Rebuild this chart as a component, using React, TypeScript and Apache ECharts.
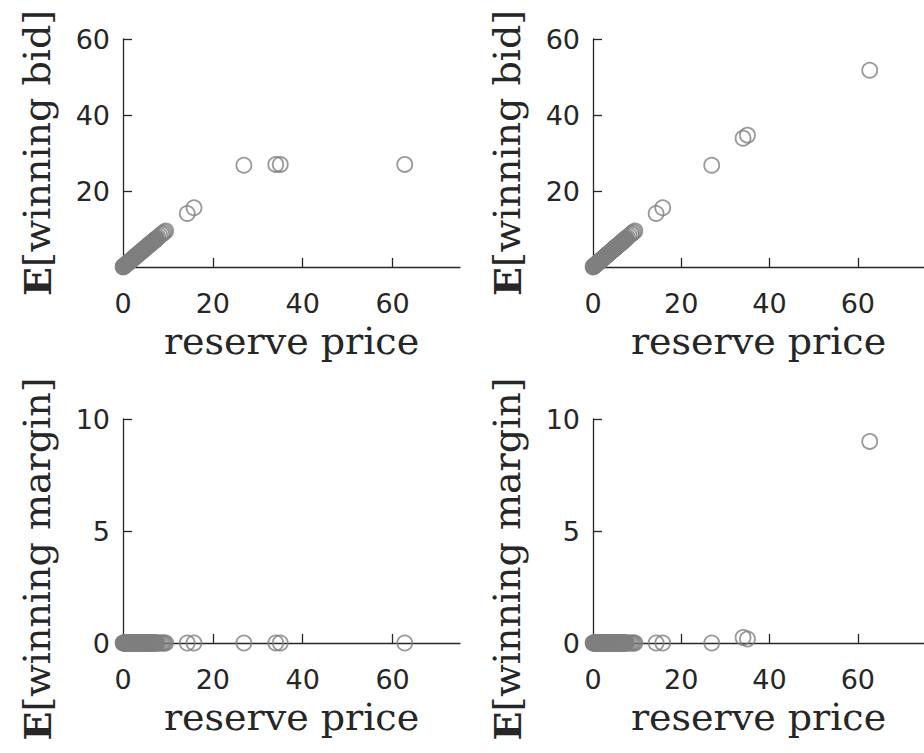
import React, { useEffect, useRef } from "react";
import * as echarts from "echarts";

// dense run of auctions along the diagonal (reserve price ≈ winning bid)
const clusterPrice = [
  0.0, 0.1, 0.2, 0.3, 0.4, 0.5, 0.6, 0.7, 0.8, 0.9, 1.0, 1.1, 1.2, 1.3, 1.4, 1.5, 1.6, 1.7, 1.8, 1.9,
  2.0, 2.1, 2.2, 2.3, 2.4, 2.5, 2.6, 2.7, 2.8, 2.9, 3.0, 3.1, 3.2, 3.3, 3.4, 3.5, 3.6, 3.7, 3.8, 3.9,
  4.0, 4.1, 4.2, 4.3, 4.4, 4.5, 4.6, 4.7, 4.8, 4.9, 5.0, 5.1, 5.2, 5.3, 5.4, 5.5, 5.6, 5.7, 5.8, 5.9,
  6.0, 6.1, 6.2, 6.3, 6.4, 6.5, 6.6, 6.7, 6.8, 6.9, 7.0, 7.1, 7.2, 7.3, 7.4, 7.5, 7.8, 8.2, 8.6, 8.9,
  9.2, 9.5,
];
const clusterMargin = [
  0, 0, 0, 0, 0, 0, 0, 0, 0, 0, 0, 0, 0, 0, 0, 0, 0, 0, 0, 0,
  0, 0, 0, 0, 0, 0, 0, 0, 0, 0, 0, 0, 0, 0, 0, 0, 0, 0, 0, 0,
  0, 0, 0, 0, 0, 0, 0, 0, 0, 0, 0, 0, 0, 0, 0, 0, 0, 0, 0, 0,
  0, 0, 0, 0, 0, 0, 0, 0, 0, 0, 0, 0, 0, 0, 0, 0, 0, 0, 0, 0,
  0, 0,
];

// the scattered auctions
const outlierPrice = [14.3, 15.8, 26.9, 34.0, 35.0, 62.7];
const outlierBidLeft = [14.1, 15.6, 26.8, 27.0, 27.0, 27.0];
const outlierBidRight = [14.1, 15.6, 26.8, 33.9, 34.7, 51.8];
const outlierMarginLeft = [0, 0, 0, 0, 0, 0];
const outlierMarginRight = [0, 0, 0, 0.25, 0.18, 9.0];

const reservePrice = [...clusterPrice, ...outlierPrice];
const bidLeft = [...clusterPrice, ...outlierBidLeft];
const bidRight = [...clusterPrice, ...outlierBidRight];
const marginLeft = [...clusterMargin, ...outlierMarginLeft];
const marginRight = [...clusterMargin, ...outlierMarginRight];

const xTicks = [0, 20, 40, 60];
const bidTickLabels = [20, 40, 60];
const marginTickLabels = [0, 5, 10];

const xTitle = "reserve price";
const bidTitle = "{b|E}[winning bid]";
const marginTitle = "{b|E}[winning margin]";

const AXIS = "#262626";
const MARK = "#808080";
const SANS = "DejaVu Sans";
const SERIF = "DejaVu Serif";
const TITLE_SIZE = 38;

function zip(xs: number[], ys: number[]) {
  return xs.map((x, i) => [x, ys[i]]);
}

export default function App() {
  const ref = useRef<HTMLDivElement>(null);
  useEffect(() => {
    if (!ref.current) return;
    const chart = echarts.init(ref.current, null, { renderer: "svg" });

    const grids = [
      { left: 123, top: 39, width: 337, height: 228 },
      { left: 593, top: 39, width: 336, height: 228 },
      { left: 123, top: 419, width: 337, height: 224 },
      { left: 593, top: 419, width: 336, height: 224 },
    ];

    const mkX = (gi: number) => ({
      type: "value",
      gridIndex: gi,
      min: 0,
      max: 75,
      interval: 20,
      position: "bottom",
      splitLine: { show: false },
      axisLine: { show: true, onZero: false, lineStyle: { color: AXIS, width: 1.3 } },
      axisTick: { show: true, inside: true, length: 9, customValues: xTicks, lineStyle: { color: AXIS, width: 1.3 } },
      axisLabel: {
        customValues: xTicks,
        margin: 23,
        color: AXIS,
        fontFamily: SANS,
        fontSize: 27,
      },
      name: xTitle,
      nameLocation: "middle",
      nameGap: 55,
      nameTextStyle: { fontFamily: SERIF, fontSize: TITLE_SIZE, color: AXIS },
    });

    const mkY = (gi: number, max: number, interval: number, labels: number[], title: string, shift: number) => ({
      type: "value",
      gridIndex: gi,
      min: 0,
      max,
      interval,
      position: "left",
      splitLine: { show: false },
      axisLine: { show: true, onZero: false, lineStyle: { color: AXIS, width: 1.3 } },
      axisTick: { show: true, inside: true, length: 9, customValues: labels.filter((v) => v !== 0), lineStyle: { color: AXIS, width: 1.3 } },
      axisLabel: {
        customValues: labels,
        margin: 13,
        color: AXIS,
        fontFamily: SANS,
        fontSize: 27,
        padding: [5, 0, 0, 0],
      },
      name: title,
      nameLocation: "middle",
      nameGap: 67,
      nameTextStyle: {
        fontFamily: SERIF,
        fontSize: TITLE_SIZE,
        color: AXIS,
        padding: [0, shift, 0, 0],
        rich: {
          b: { fontFamily: SERIF, fontSize: TITLE_SIZE, fontWeight: "bold", color: AXIS },
        },
      },
    });

    const mkSeries = (gi: number, ys: number[]) => ({
      type: "scatter",
      xAxisIndex: gi,
      yAxisIndex: gi,
      data: zip(reservePrice, ys),
      symbol: "circle",
      symbolSize: 15,
      clip: false,
      itemStyle: { color: "rgba(0,0,0,0)", borderColor: MARK, borderWidth: 1.8 },
    });

    chart.setOption({
      animation: false,
      backgroundColor: "#ffffff",
      grid: grids,
      xAxis: [mkX(0), mkX(1), mkX(2), mkX(3)],
      yAxis: [
        mkY(0, 60, 20, bidTickLabels, bidTitle, 0),
        mkY(1, 60, 20, bidTickLabels, bidTitle, 0),
        mkY(2, 10, 5, marginTickLabels, marginTitle, 56),
        mkY(3, 10, 5, marginTickLabels, marginTitle, 56),
      ],
      series: [
        mkSeries(0, bidLeft),
        mkSeries(1, bidRight),
        mkSeries(2, marginLeft),
        mkSeries(3, marginRight),
      ],
    });
    return () => chart.dispose();
  }, []);
  return (
    <div
      ref={ref}
      style={{ position: "fixed", left: 0, top: 0, width: 924, height: 753, background: "#fff" }}
    />
  );
}
